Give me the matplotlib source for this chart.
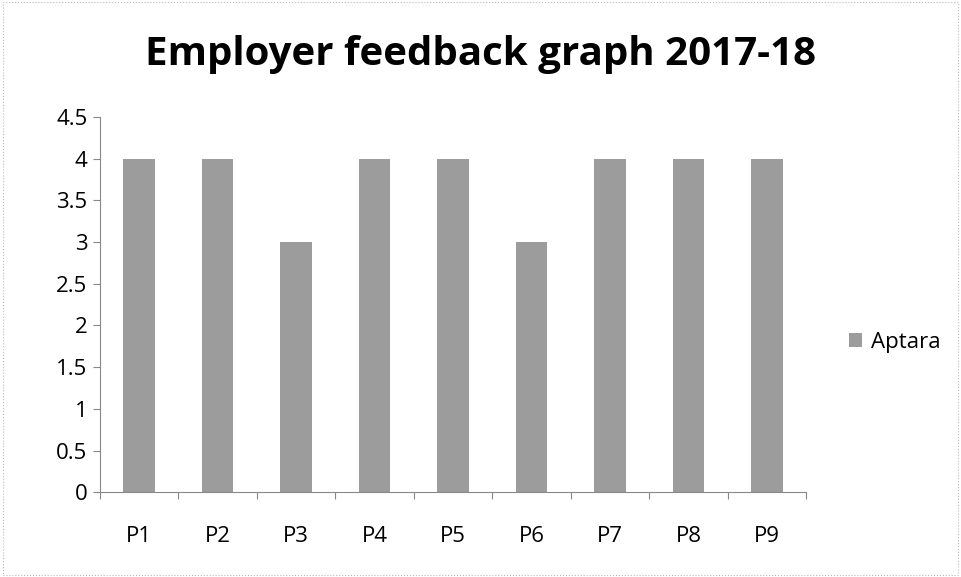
import matplotlib
matplotlib.use("Agg")
import matplotlib.pyplot as plt
import numpy as np
from matplotlib.ticker import FixedLocator

categories = ["P1", "P2", "P3", "P4", "P5", "P6", "P7", "P8", "P9"]
aptara = [4, 4, 3, 4, 4, 3, 4, 4, 4]
yticks = [0, 0.5, 1, 1.5, 2, 2.5, 3, 3.5, 4, 4.5]
ytick_labels = ["0", "0.5", "1", "1.5", "2", "2.5", "3", "3.5", "4", "4.5"]

plt.rcParams['font.family'] = ['Open Sans', 'DejaVu Sans']

fig = plt.figure(figsize=(9.61, 5.77), dpi=100)
ax = fig.add_axes([0.104, 0.147, 0.735, 0.65])

x = np.arange(len(categories))
ax.bar(x, aptara, width=0.4, color="#9c9c9c", label="Aptara")

ax.set_xlim(-0.5, len(categories) - 0.5)
ax.set_ylim(0, 4.5)
ax.set_yticks(yticks)
ax.set_yticklabels(ytick_labels, fontsize=16)
ax.set_xticks(x)
ax.set_xticklabels(categories, fontsize=16)
ax.tick_params(axis='x', which='major', length=0, pad=24)
ax.xaxis.set_minor_locator(FixedLocator(np.arange(-0.5, len(categories), 1.0)))
ax.tick_params(axis='x', which='minor', length=5, color="#888888", width=0.8)
ax.tick_params(axis='y', length=5, color="#888888", width=0.8, pad=4)

for s in ["top", "right"]:
    ax.spines[s].set_visible(False)
for s in ["left", "bottom"]:
    ax.spines[s].set_color("#888888")
    ax.spines[s].set_linewidth(0.8)

fig.text(0.5, 0.905, "Employer feedback graph 2017-18", ha="center", va="center",
         fontsize=29, fontweight="bold")

ax.legend(loc="center left", bbox_to_anchor=(1.0, 0.4), frameon=False, fontsize=16,
          handlelength=0.6, handleheight=0.6, handletextpad=0.4, borderaxespad=1.5)

fig.patches.append(plt.Rectangle((0.003, 0.003), 0.994, 0.994, transform=fig.transFigure,
                                 fill=False, edgecolor="#bbbbbb", linewidth=0.8, linestyle=":"))

fig.savefig("out.png", dpi=100)
